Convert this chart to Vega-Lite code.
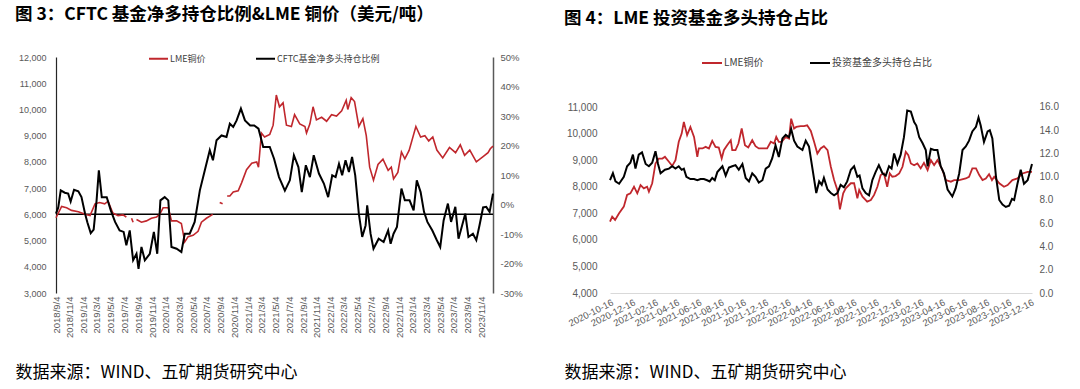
{
"$schema": "https://vega.github.io/schema/vega-lite/v6.json",
"background": "white",
"padding": {"left": 15, "top": 5, "right": 0, "bottom": 4},
"spacing": 41,
"config": {"view": {"stroke": null}, "axis": {"labelFont": "Liberation Sans", "labelColor": "#595959"}, "legend": {"labelFont": "Noto Sans CJK SC", "labelColor": "#404040"}},
"resolve": {"scale": {"color": "independent"}, "legend": {"color": "independent"}},
"datasets": {
"cftcPrice": [
{"d":"2018-09-04","v":5870,"g":1},{"d":"2018-09-29","v":6300,"g":1},{"d":"2018-10-21","v":6250,"g":1},{"d":"2018-11-12","v":6150,"g":1},{"d":"2018-12-12","v":6100,"g":1},{"d":"2019-01-11","v":6000,"g":1},{"d":"2019-02-02","v":5950,"g":1},{"d":"2019-02-24","v":6400,"g":1},{"d":"2019-03-16","v":6450,"g":1},{"d":"2019-04-08","v":6400,"g":1},{"d":"2019-04-23","v":6500,"g":1},{"d":"2019-05-14","v":6050,"g":1},{"d":"2019-06-06","v":5950,"g":1},{"d":"2019-06-28","v":5980,"g":1},{"d":"2019-07-13","v":5900,"g":1},
{"d":"2019-08-05","v":5850,"g":2},{"d":"2019-08-12","v":5700,"g":2},
{"d":"2019-08-27","v":5800,"g":3},{"d":"2019-09-18","v":5700,"g":3},{"d":"2019-10-10","v":5750,"g":3},{"d":"2019-11-01","v":5850,"g":3},{"d":"2019-11-24","v":5900,"g":3},{"d":"2019-12-08","v":6000,"g":3},{"d":"2019-12-23","v":6250,"g":3},{"d":"2020-01-15","v":6250,"g":3},{"d":"2020-01-29","v":5750,"g":3},{"d":"2020-02-21","v":5750,"g":3},{"d":"2020-03-13","v":5650,"g":3},{"d":"2020-03-28","v":4950,"g":3},{"d":"2020-04-12","v":5150,"g":3},{"d":"2020-05-04","v":5200,"g":3},{"d":"2020-05-26","v":5350,"g":3},{"d":"2020-06-10","v":5700,"g":3},{"d":"2020-07-02","v":5850,"g":3},{"d":"2020-07-30","v":6000,"g":3},
{"d":"2020-08-30","v":6450,"g":4},{"d":"2020-09-12","v":6400,"g":4},
{"d":"2020-10-02","v":6700,"g":5},{"d":"2020-10-14","v":6700,"g":5},{"d":"2020-10-29","v":6850,"g":5},{"d":"2020-11-20","v":6900,"g":5},{"d":"2020-12-05","v":7200,"g":5},{"d":"2020-12-27","v":7700,"g":5},{"d":"2021-01-19","v":7950,"g":5},{"d":"2021-02-10","v":8000,"g":5},{"d":"2021-02-18","v":7800,"g":5},{"d":"2021-03-03","v":9100,"g":5},{"d":"2021-03-17","v":8950,"g":5},{"d":"2021-04-09","v":9050,"g":5},{"d":"2021-04-24","v":9400,"g":5},{"d":"2021-05-08","v":10550,"g":5},{"d":"2021-05-22","v":10100,"g":5},{"d":"2021-06-07","v":10250,"g":5},{"d":"2021-06-22","v":9400,"g":5},{"d":"2021-07-14","v":9350,"g":5},{"d":"2021-07-28","v":9800,"g":5},{"d":"2021-08-20","v":9450,"g":5},{"d":"2021-09-12","v":9350,"g":5},{"d":"2021-09-19","v":9100,"g":5},{"d":"2021-10-04","v":9450,"g":5},{"d":"2021-10-18","v":10100,"g":5},{"d":"2021-11-02","v":9600,"g":5},{"d":"2021-11-25","v":9700,"g":5},{"d":"2021-12-17","v":9550,"g":5},{"d":"2022-01-08","v":9800,"g":5},{"d":"2022-01-30","v":9750,"g":5},{"d":"2022-02-22","v":9950,"g":5},{"d":"2022-03-14","v":10350,"g":5},{"d":"2022-03-21","v":10000,"g":5},{"d":"2022-04-05","v":10450,"g":5},{"d":"2022-04-20","v":10300,"g":5},{"d":"2022-05-09","v":9350,"g":5},{"d":"2022-05-27","v":9650,"g":5},{"d":"2022-06-11","v":9000,"g":5},{"d":"2022-06-26","v":7800,"g":5},{"d":"2022-07-13","v":7300,"g":5},{"d":"2022-08-02","v":7900,"g":5},{"d":"2022-08-24","v":8100,"g":5},{"d":"2022-09-16","v":7680,"g":5},{"d":"2022-09-30","v":7800,"g":5},{"d":"2022-10-10","v":7350,"g":5},{"d":"2022-10-29","v":7600,"g":5},{"d":"2022-11-14","v":8380,"g":5},{"d":"2022-11-29","v":8120,"g":5},{"d":"2022-12-18","v":8440,"g":5},{"d":"2023-01-17","v":9350,"g":5},{"d":"2023-02-07","v":8950,"g":5},{"d":"2023-02-26","v":9000,"g":5},{"d":"2023-03-15","v":8800,"g":5},{"d":"2023-04-02","v":8950,"g":5},{"d":"2023-04-20","v":8450,"g":5},{"d":"2023-05-16","v":8150,"g":5},{"d":"2023-06-15","v":8550,"g":5},{"d":"2023-07-12","v":8350,"g":5},{"d":"2023-08-02","v":8650,"g":5},{"d":"2023-08-21","v":8250,"g":5},{"d":"2023-09-13","v":8450,"g":5},{"d":"2023-10-12","v":8000,"g":5},{"d":"2023-11-11","v":8200,"g":5},{"d":"2023-12-03","v":8350,"g":5},{"d":"2023-12-13","v":8500,"g":5},{"d":"2023-12-25","v":8600,"g":5}
],
"cftcRatio": [
{"d":"2018-09-04","v":-3.1},{"d":"2018-09-14","v":-1},{"d":"2018-09-25","v":4.8},{"d":"2018-10-13","v":4.0},{"d":"2018-10-28","v":3.7},{"d":"2018-11-08","v":1.0},{"d":"2018-11-23","v":5.0},{"d":"2018-12-12","v":4.5},{"d":"2018-12-26","v":2.5},{"d":"2019-01-11","v":-3.1},{"d":"2019-01-21","v":-6},{"d":"2019-02-05","v":-9.7},{"d":"2019-02-18","v":-8.5},{"d":"2019-03-03","v":1.4},{"d":"2019-03-13","v":11.6},{"d":"2019-03-26","v":2.5},{"d":"2019-04-17","v":2.5},{"d":"2019-05-05","v":-2.0},{"d":"2019-05-24","v":-5.9},{"d":"2019-06-13","v":-8.8},{"d":"2019-07-01","v":-9.3},{"d":"2019-07-13","v":-13.8},{"d":"2019-07-28","v":-8.8},{"d":"2019-08-12","v":-18.9},{"d":"2019-08-27","v":-16.7},{"d":"2019-09-05","v":-21.8},{"d":"2019-09-18","v":-14.4},{"d":"2019-10-03","v":-18.9},{"d":"2019-10-25","v":-16.7},{"d":"2019-11-12","v":-9.3},{"d":"2019-11-27","v":-16.7},{"d":"2019-12-11","v":1.4},{"d":"2019-12-30","v":2.5},{"d":"2020-01-15","v":1.4},{"d":"2020-01-29","v":-14.4},{"d":"2020-02-21","v":-15.0},{"d":"2020-03-13","v":-16.1},{"d":"2020-03-28","v":-9.9},{"d":"2020-04-19","v":-9.9},{"d":"2020-05-11","v":-5.9},{"d":"2020-06-03","v":4.8},{"d":"2020-06-25","v":11.6},{"d":"2020-07-17","v":18.4},{"d":"2020-07-31","v":15.0},{"d":"2020-08-16","v":21.8},{"d":"2020-09-07","v":23.4},{"d":"2020-09-29","v":22.9},{"d":"2020-10-14","v":27.4},{"d":"2020-10-29","v":26.3},{"d":"2020-11-13","v":28.5},{"d":"2020-12-02","v":32.5},{"d":"2020-12-20","v":28.5},{"d":"2021-01-12","v":26.8},{"d":"2021-01-30","v":26.8},{"d":"2021-02-18","v":25.7},{"d":"2021-03-11","v":19.5},{"d":"2021-04-09","v":19.5},{"d":"2021-04-28","v":15.5},{"d":"2021-05-20","v":9.3},{"d":"2021-06-15","v":4.7},{"d":"2021-07-07","v":8.2},{"d":"2021-07-25","v":16.7},{"d":"2021-08-14","v":12.7},{"d":"2021-08-29","v":4.2},{"d":"2021-09-16","v":13.3},{"d":"2021-10-04","v":9.3},{"d":"2021-10-21","v":16.7},{"d":"2021-11-13","v":10.5},{"d":"2021-12-05","v":7.1},{"d":"2021-12-24","v":2.5},{"d":"2022-01-11","v":9.9},{"d":"2022-01-26","v":9.3},{"d":"2022-02-10","v":13.8},{"d":"2022-02-24","v":9.9},{"d":"2022-03-11","v":15.0},{"d":"2022-03-26","v":11.0},{"d":"2022-04-09","v":16.1},{"d":"2022-04-23","v":9.9},{"d":"2022-05-09","v":-3.1},{"d":"2022-05-24","v":-11.0},{"d":"2022-06-08","v":-7.1},{"d":"2022-06-15","v":-0.3},{"d":"2022-06-30","v":-9.9},{"d":"2022-07-13","v":-15.0},{"d":"2022-08-05","v":-11.6},{"d":"2022-08-27","v":-12.7},{"d":"2022-09-16","v":-8.8},{"d":"2022-09-27","v":-13.3},{"d":"2022-10-10","v":-9.9},{"d":"2022-10-25","v":-7.6},{"d":"2022-11-14","v":5.4},{"d":"2022-11-29","v":1.4},{"d":"2022-12-20","v":1.4},{"d":"2023-01-07","v":-2.0},{"d":"2023-01-21","v":8.2},{"d":"2023-02-07","v":4.2},{"d":"2023-02-22","v":-2.5},{"d":"2023-03-09","v":-5.9},{"d":"2023-03-31","v":-8.8},{"d":"2023-04-20","v":-12.1},{"d":"2023-05-05","v":-14.4},{"d":"2023-05-20","v":-5.4},{"d":"2023-06-08","v":0.3},{"d":"2023-06-22","v":-5.9},{"d":"2023-07-11","v":-0.8},{"d":"2023-07-25","v":-11.6},{"d":"2023-08-10","v":-7.1},{"d":"2023-08-24","v":-3.1},{"d":"2023-09-07","v":-11.0},{"d":"2023-09-27","v":-9.9},{"d":"2023-10-12","v":-12.1},{"d":"2023-10-26","v":-7.1},{"d":"2023-11-11","v":-1.0},{"d":"2023-11-25","v":-0.8},{"d":"2023-12-10","v":-2.5},{"d":"2023-12-25","v":3.7}
],
"lmePrice": [
{"d":"2020-10-16","v":6690},{"d":"2020-10-22","v":6875},{"d":"2020-10-30","v":6750},{"d":"2020-11-10","v":7000},{"d":"2020-11-23","v":7250},{"d":"2020-12-02","v":7690},{"d":"2020-12-11","v":7750},{"d":"2020-12-21","v":8000},{"d":"2020-12-30","v":7750},{"d":"2021-01-08","v":8060},{"d":"2021-01-17","v":7940},{"d":"2021-01-26","v":8000},{"d":"2021-01-31","v":7810},{"d":"2021-02-09","v":8130},{"d":"2021-02-18","v":8875},{"d":"2021-02-27","v":9060},{"d":"2021-03-09","v":9060},{"d":"2021-03-16","v":9125},{"d":"2021-03-27","v":8940},{"d":"2021-04-05","v":8780},{"d":"2021-04-14","v":9000},{"d":"2021-04-23","v":9690},{"d":"2021-05-01","v":10000},{"d":"2021-05-07","v":10440},{"d":"2021-05-16","v":9940},{"d":"2021-05-25","v":10250},{"d":"2021-06-04","v":9875},{"d":"2021-06-13","v":9125},{"d":"2021-06-17","v":9440},{"d":"2021-06-27","v":9440},{"d":"2021-07-06","v":9500},{"d":"2021-07-15","v":9440},{"d":"2021-07-24","v":9725},{"d":"2021-08-02","v":9500},{"d":"2021-08-11","v":9475},{"d":"2021-08-19","v":9060},{"d":"2021-08-25","v":9375},{"d":"2021-09-03","v":9560},{"d":"2021-09-13","v":9750},{"d":"2021-09-17","v":9375},{"d":"2021-09-26","v":9375},{"d":"2021-10-04","v":9625},{"d":"2021-10-13","v":10190},{"d":"2021-10-22","v":9560},{"d":"2021-10-31","v":9475},{"d":"2021-11-11","v":9750},{"d":"2021-11-20","v":9525},{"d":"2021-11-29","v":9440},{"d":"2021-12-09","v":9440},{"d":"2021-12-22","v":9440},{"d":"2022-01-01","v":9690},{"d":"2022-01-10","v":9625},{"d":"2022-01-16","v":9875},{"d":"2022-01-23","v":9690},{"d":"2022-01-31","v":9690},{"d":"2022-02-11","v":9875},{"d":"2022-02-20","v":9810},{"d":"2022-02-26","v":10560},{"d":"2022-03-06","v":10190},{"d":"2022-03-12","v":10250},{"d":"2022-03-24","v":10280},{"d":"2022-04-02","v":10280},{"d":"2022-04-11","v":10310},{"d":"2022-04-21","v":10100},{"d":"2022-04-30","v":9690},{"d":"2022-05-09","v":9250},{"d":"2022-05-18","v":9440},{"d":"2022-05-27","v":9525},{"d":"2022-06-06","v":9375},{"d":"2022-06-15","v":8750},{"d":"2022-06-24","v":8250},{"d":"2022-07-03","v":7875},{"d":"2022-07-10","v":7150},{"d":"2022-07-19","v":7750},{"d":"2022-07-26","v":7940},{"d":"2022-08-09","v":8130},{"d":"2022-08-18","v":8130},{"d":"2022-08-27","v":7560},{"d":"2022-09-01","v":7875},{"d":"2022-09-10","v":7625},{"d":"2022-09-23","v":7440},{"d":"2022-10-03","v":7500},{"d":"2022-10-12","v":7690},{"d":"2022-10-21","v":8000},{"d":"2022-10-30","v":8440},{"d":"2022-11-08","v":8500},{"d":"2022-11-17","v":8000},{"d":"2022-11-24","v":8500},{"d":"2022-12-01","v":8375},{"d":"2022-12-10","v":8400},{"d":"2022-12-20","v":8500},{"d":"2022-12-29","v":8750},{"d":"2023-01-07","v":9310},{"d":"2023-01-14","v":9190},{"d":"2023-01-21","v":8875},{"d":"2023-01-30","v":8810},{"d":"2023-02-08","v":8875},{"d":"2023-02-17","v":8690},{"d":"2023-02-26","v":8900},{"d":"2023-03-08","v":8625},{"d":"2023-03-17","v":9000},{"d":"2023-03-26","v":8810},{"d":"2023-04-04","v":9000},{"d":"2023-04-18","v":8625},{"d":"2023-04-27","v":8250},{"d":"2023-05-11","v":8190},{"d":"2023-05-20","v":8250},{"d":"2023-06-03","v":8250},{"d":"2023-06-21","v":8310},{"d":"2023-06-30","v":8375},{"d":"2023-07-09","v":8690},{"d":"2023-07-19","v":8690},{"d":"2023-07-28","v":8440},{"d":"2023-08-06","v":8250},{"d":"2023-08-15","v":8310},{"d":"2023-08-24","v":8475},{"d":"2023-09-01","v":8250},{"d":"2023-09-07","v":8375},{"d":"2023-09-21","v":8130},{"d":"2023-10-04","v":8000},{"d":"2023-10-14","v":8060},{"d":"2023-10-27","v":8250},{"d":"2023-11-10","v":8310},{"d":"2023-11-24","v":8500},{"d":"2023-12-08","v":8560},{"d":"2023-12-20","v":8560}
],
"lmeRatio": [
{"d":"2020-10-16","v":9.7},{"d":"2020-10-24","v":10.3},{"d":"2020-10-31","v":9.6},{"d":"2020-11-10","v":9.4},{"d":"2020-11-23","v":10.0},{"d":"2020-12-02","v":10.9},{"d":"2020-12-11","v":11.2},{"d":"2020-12-18","v":11.9},{"d":"2020-12-25","v":10.7},{"d":"2021-01-03","v":11.9},{"d":"2021-01-12","v":12.1},{"d":"2021-01-22","v":11.1},{"d":"2021-01-31","v":10.9},{"d":"2021-02-09","v":11.2},{"d":"2021-02-18","v":12.2},{"d":"2021-02-25","v":11.1},{"d":"2021-03-04","v":10.3},{"d":"2021-03-16","v":10.6},{"d":"2021-03-27","v":10.7},{"d":"2021-04-05","v":10.9},{"d":"2021-04-14","v":10.7},{"d":"2021-04-23","v":10.9},{"d":"2021-05-01","v":10.6},{"d":"2021-05-07","v":10.7},{"d":"2021-05-14","v":10.0},{"d":"2021-05-25","v":9.8},{"d":"2021-06-04","v":9.8},{"d":"2021-06-13","v":9.7},{"d":"2021-06-22","v":9.8},{"d":"2021-07-01","v":9.8},{"d":"2021-07-10","v":9.7},{"d":"2021-07-17","v":9.6},{"d":"2021-07-24","v":9.9},{"d":"2021-07-31","v":9.7},{"d":"2021-08-07","v":10.4},{"d":"2021-08-21","v":10.9},{"d":"2021-08-30","v":10.1},{"d":"2021-09-08","v":10.8},{"d":"2021-09-17","v":10.9},{"d":"2021-09-26","v":11.0},{"d":"2021-10-05","v":10.6},{"d":"2021-10-15","v":11.1},{"d":"2021-10-24","v":9.9},{"d":"2021-11-02","v":9.6},{"d":"2021-11-11","v":10.3},{"d":"2021-11-20","v":10.0},{"d":"2021-11-29","v":9.5},{"d":"2021-12-09","v":9.7},{"d":"2021-12-18","v":10.7},{"d":"2021-12-27","v":10.9},{"d":"2022-01-05","v":11.6},{"d":"2022-01-14","v":12.7},{"d":"2022-01-23","v":11.7},{"d":"2022-02-02","v":13.3},{"d":"2022-02-11","v":13.6},{"d":"2022-02-20","v":13.4},{"d":"2022-02-26","v":14.1},{"d":"2022-03-06","v":13.1},{"d":"2022-03-15","v":12.6},{"d":"2022-03-29","v":12.3},{"d":"2022-04-07","v":13.1},{"d":"2022-04-16","v":12.6},{"d":"2022-04-27","v":10.4},{"d":"2022-05-06","v":8.6},{"d":"2022-05-14","v":9.6},{"d":"2022-05-21","v":9.3},{"d":"2022-05-27","v":9.9},{"d":"2022-06-06","v":8.9},{"d":"2022-06-15","v":8.6},{"d":"2022-06-24","v":8.4},{"d":"2022-07-03","v":8.6},{"d":"2022-07-12","v":9.3},{"d":"2022-07-21","v":9.1},{"d":"2022-07-30","v":9.6},{"d":"2022-08-09","v":10.6},{"d":"2022-08-18","v":10.9},{"d":"2022-08-27","v":10.0},{"d":"2022-09-02","v":10.1},{"d":"2022-09-10","v":9.0},{"d":"2022-09-19","v":8.6},{"d":"2022-09-28","v":8.4},{"d":"2022-10-07","v":9.7},{"d":"2022-10-16","v":10.4},{"d":"2022-10-25","v":11.0},{"d":"2022-11-04","v":10.3},{"d":"2022-11-13","v":10.1},{"d":"2022-11-22","v":10.9},{"d":"2022-11-29","v":10.7},{"d":"2022-12-06","v":12.0},{"d":"2022-12-15","v":11.1},{"d":"2022-12-24","v":11.9},{"d":"2023-01-02","v":13.4},{"d":"2023-01-11","v":15.7},{"d":"2023-01-21","v":15.6},{"d":"2023-01-30","v":14.7},{"d":"2023-02-05","v":14.4},{"d":"2023-02-13","v":13.4},{"d":"2023-02-22","v":12.9},{"d":"2023-03-03","v":12.3},{"d":"2023-03-08","v":10.9},{"d":"2023-03-17","v":12.4},{"d":"2023-03-26","v":12.3},{"d":"2023-04-04","v":12.3},{"d":"2023-04-13","v":10.9},{"d":"2023-04-22","v":10.3},{"d":"2023-05-02","v":8.9},{"d":"2023-05-15","v":8.3},{"d":"2023-05-24","v":9.0},{"d":"2023-06-03","v":10.3},{"d":"2023-06-12","v":12.3},{"d":"2023-06-21","v":12.6},{"d":"2023-06-30","v":13.1},{"d":"2023-07-09","v":13.9},{"d":"2023-07-19","v":14.3},{"d":"2023-07-26","v":15.1},{"d":"2023-08-01","v":14.4},{"d":"2023-08-10","v":13.0},{"d":"2023-08-20","v":13.9},{"d":"2023-08-26","v":14.0},{"d":"2023-09-02","v":13.3},{"d":"2023-09-12","v":10.0},{"d":"2023-09-21","v":8.0},{"d":"2023-09-30","v":7.6},{"d":"2023-10-09","v":7.4},{"d":"2023-10-18","v":7.5},{"d":"2023-10-26","v":8.1},{"d":"2023-11-01","v":8.0},{"d":"2023-11-10","v":9.4},{"d":"2023-11-19","v":10.6},{"d":"2023-11-28","v":9.4},{"d":"2023-12-08","v":9.7},{"d":"2023-12-20","v":11.1}
]
},
"hconcat": [
{
"width": 437, "height": 236,
"title": {"text": "图 3：CFTC 基金净多持仓比例&LME 铜价（美元/吨）", "anchor": "start", "frame": "bounds", "font": "Noto Sans CJK SC", "fontSize": 17.5, "fontWeight": "bold", "color": "#000000", "offset": 25},
"layer": [
{"data": {"values": [{}]}, "mark": {"type": "rule", "color": "#000000", "strokeWidth": 1.5},
 "encoding": {"y": {"datum": 6000, "type": "quantitative", "scale": {"domain": [3000, 12000], "nice": false, "zero": false}, "axis": null}}},
{"data": {"name": "cftcPrice"}, "mark": {"type": "line", "strokeWidth": 1.6},
 "encoding": {
  "x": {"field": "d", "type": "temporal",
   "scale": {"type": "utc", "domain": [{"year": 2018, "month": 9, "date": 4, "utc": true}, {"year": 2023, "month": 12, "date": 25, "utc": true}]},
   "axis": {"values": [{"year":2018,"month":9,"date":4,"utc":true},{"year":2018,"month":11,"date":4,"utc":true},{"year":2019,"month":1,"date":4,"utc":true},{"year":2019,"month":3,"date":4,"utc":true},{"year":2019,"month":5,"date":4,"utc":true},{"year":2019,"month":7,"date":4,"utc":true},{"year":2019,"month":9,"date":4,"utc":true},{"year":2019,"month":11,"date":4,"utc":true},{"year":2020,"month":1,"date":4,"utc":true},{"year":2020,"month":3,"date":4,"utc":true},{"year":2020,"month":5,"date":4,"utc":true},{"year":2020,"month":7,"date":4,"utc":true},{"year":2020,"month":9,"date":4,"utc":true},{"year":2020,"month":11,"date":4,"utc":true},{"year":2021,"month":1,"date":4,"utc":true},{"year":2021,"month":3,"date":4,"utc":true},{"year":2021,"month":5,"date":4,"utc":true},{"year":2021,"month":7,"date":4,"utc":true},{"year":2021,"month":9,"date":4,"utc":true},{"year":2021,"month":11,"date":4,"utc":true},{"year":2022,"month":1,"date":4,"utc":true},{"year":2022,"month":3,"date":4,"utc":true},{"year":2022,"month":5,"date":4,"utc":true},{"year":2022,"month":7,"date":4,"utc":true},{"year":2022,"month":9,"date":4,"utc":true},{"year":2022,"month":11,"date":4,"utc":true},{"year":2023,"month":1,"date":4,"utc":true},{"year":2023,"month":3,"date":4,"utc":true},{"year":2023,"month":5,"date":4,"utc":true},{"year":2023,"month":7,"date":4,"utc":true},{"year":2023,"month":9,"date":4,"utc":true},{"year":2023,"month":11,"date":4,"utc":true}],
    "tickCount": 100,
    "format": "%Y/%-m/%-d", "labelAngle": -90, "labelAlign": "right", "labelBaseline": "middle", "labelPadding": 3, "labelFontSize": 9.5, "labelFlush": false, "labelOverlap": false, "labelBound": false,
    "ticks": false, "domain": false, "grid": false,
    "title": "数据来源：WIND、五矿期货研究中心", "titleX": -41, "titleY": 84, "titleAlign": "left", "titleAnchor": "start", "titleBaseline": "alphabetic", "titleFont": "Noto Sans CJK SC", "titleFontSize": 17, "titleFontWeight": "normal", "titleColor": "#000000"}},
  "y": {"field": "v", "type": "quantitative", "scale": {"domain": [3000, 12000], "nice": false, "zero": false},
   "axis": {"orient": "left", "values": [3000,4000,5000,6000,7000,8000,9000,10000,11000,12000], "format": ",.0f", "title": null, "grid": false, "ticks": false, "domain": true, "domainColor": "#262626", "domainWidth": 1.2, "labelPadding": 10, "labelFontSize": 9}},
  "detail": {"field": "g", "type": "nominal"},
  "color": {"datum": "LME铜价", "type": "nominal", "scale": {"domain": ["LME铜价", "CFTC基金净多头持仓比例"], "range": ["#C0272D", "#000000"]},
   "legend": {"orient": "none", "legendX": 92, "legendY": -9, "direction": "horizontal", "title": null, "symbolType": "stroke", "symbolStrokeWidth": 2, "symbolSize": 361, "labelFontSize": 9, "columnPadding": 46, "labelOffset": 1}}
 }},
{"data": {"name": "cftcRatio"}, "mark": {"type": "line", "strokeWidth": 2},
 "encoding": {
  "x": {"field": "d", "type": "temporal"},
  "y": {"field": "v", "type": "quantitative", "scale": {"domain": [-30, 50], "nice": false, "zero": false},
   "axis": {"orient": "right", "values": [-30,-20,-10,0,10,20,30,40,50], "labelExpr": "datum.value + '%'", "title": null, "grid": false, "ticks": false, "domain": true, "domainColor": "#595959", "domainWidth": 1.5, "labelPadding": 7, "labelFontSize": 9.5}},
  "color": {"datum": "CFTC基金净多头持仓比例", "type": "nominal"}
 }}
],
"resolve": {"scale": {"y": "independent"}}
},
{
"width": 422, "height": 236,
"title": {"text": "图 4：LME 投资基金多头持仓占比", "anchor": "start", "frame": "bounds", "font": "Noto Sans CJK SC", "fontSize": 17.5, "fontWeight": "bold", "color": "#000000", "offset": 25},
"layer": [
{"data": {"name": "lmePrice"}, "mark": {"type": "line", "strokeWidth": 1.8},
 "encoding": {
  "x": {"field": "d", "type": "temporal",
   "scale": {"type": "utc", "domain": [{"year": 2020, "month": 10, "date": 16, "utc": true}, {"year": 2023, "month": 12, "date": 20, "utc": true}]},
   "axis": {"values": [{"year":2020,"month":10,"date":16,"utc":true},{"year":2020,"month":12,"date":16,"utc":true},{"year":2021,"month":2,"date":16,"utc":true},{"year":2021,"month":4,"date":16,"utc":true},{"year":2021,"month":6,"date":16,"utc":true},{"year":2021,"month":8,"date":16,"utc":true},{"year":2021,"month":10,"date":16,"utc":true},{"year":2021,"month":12,"date":16,"utc":true},{"year":2022,"month":2,"date":16,"utc":true},{"year":2022,"month":4,"date":16,"utc":true},{"year":2022,"month":6,"date":16,"utc":true},{"year":2022,"month":8,"date":16,"utc":true},{"year":2022,"month":10,"date":16,"utc":true},{"year":2022,"month":12,"date":16,"utc":true},{"year":2023,"month":2,"date":16,"utc":true},{"year":2023,"month":4,"date":16,"utc":true},{"year":2023,"month":6,"date":16,"utc":true},{"year":2023,"month":8,"date":16,"utc":true},{"year":2023,"month":10,"date":16,"utc":true},{"year":2023,"month":12,"date":16,"utc":true}],
    "tickCount": 100,
    "format": "%Y-%m-%d", "labelAngle": -27, "labelAlign": "right", "labelBaseline": "top", "labelPadding": 4, "labelFontSize": 9.5, "labelFlush": false, "labelOverlap": false, "labelBound": false,
    "ticks": false, "domain": true, "domainColor": "#d9d9d9", "domainWidth": 1, "grid": false,
    "title": "数据来源：WIND、五矿期货研究中心", "titleX": -46, "titleY": 84, "titleAlign": "left", "titleAnchor": "start", "titleBaseline": "alphabetic", "titleFont": "Noto Sans CJK SC", "titleFontSize": 17, "titleFontWeight": "normal", "titleColor": "#000000"}},
  "y": {"field": "v", "type": "quantitative", "scale": {"domain": [4000, 12882], "nice": false, "zero": false},
   "axis": {"orient": "left", "values": [4000,5000,6000,7000,8000,9000,10000,11000], "format": ",.0f", "title": null, "grid": false, "ticks": false, "domain": false, "labelPadding": 13, "labelFontSize": 10}},
  "color": {"datum": "LME铜价", "type": "nominal", "scale": {"domain": ["LME铜价", "投资基金多头持仓占比"], "range": ["#C0272D", "#000000"]},
   "legend": {"orient": "none", "legendX": 91, "legendY": -5, "direction": "horizontal", "title": null, "symbolType": "stroke", "symbolStrokeWidth": 2, "symbolSize": 400, "labelFontSize": 10, "columnPadding": 42, "labelOffset": 1}}
 }},
{"data": {"name": "lmeRatio"}, "mark": {"type": "line", "strokeWidth": 2},
 "encoding": {
  "x": {"field": "d", "type": "temporal"},
  "y": {"field": "v", "type": "quantitative", "scale": {"domain": [0, 20.3], "nice": false, "zero": false},
   "axis": {"orient": "right", "values": [0,2,4,6,8,10,12,14,16], "format": ".1f", "title": null, "grid": false, "ticks": false, "domain": false, "labelPadding": 7, "labelFontSize": 10}},
  "color": {"datum": "投资基金多头持仓占比", "type": "nominal"}
 }}
],
"resolve": {"scale": {"y": "independent"}}
}
]
}
